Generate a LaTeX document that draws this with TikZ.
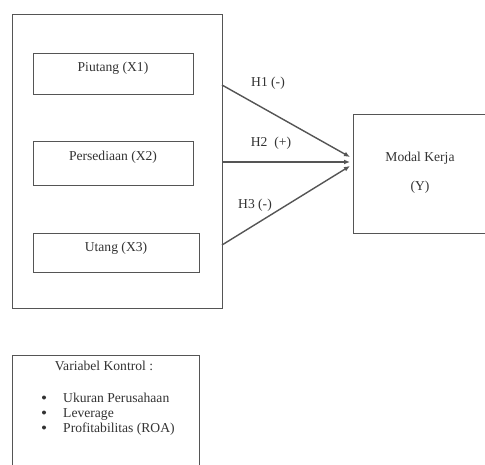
\documentclass[tikz,border=0pt]{standalone}
\usepackage{fontspec}
\setmainfont{Liberation Serif}
\usetikzlibrary{arrows.meta}
\definecolor{linec}{HTML}{555555}
\definecolor{txtc}{HTML}{333333}
\begin{document}
\begin{tikzpicture}[x=1pt,y=-1pt,
  box/.style={draw=linec, line width=1.4pt, rectangle, inner sep=0pt, anchor=north west},
  lbl/.style={font=\fontsize{13.6}{15}\selectfont, text=txtc, inner sep=0pt},
  bul/.style={circle, fill=txtc, inner sep=0pt, minimum size=4pt},
  conn/.style={draw=linec, line width=1.4pt, -{Latex[length=6pt,width=5pt]}}]
\clip (0,0) rectangle (485,465);
\fill[white] (0,0) rectangle (485,465);
% boxes
\node[box, minimum width=210pt, minimum height=294pt] (outer) at (12,14) {};
\node[box, minimum width=160pt, minimum height=41pt] (pi) at (33,53) {};
\node[box, minimum width=160pt, minimum height=44pt] (pe) at (33,141) {};
\node[box, minimum width=166pt, minimum height=39pt] (ut) at (33,233) {};
\node[box, minimum width=134pt, minimum height=119pt] (y) at (353,114) {};
\node[box, minimum width=187pt, minimum height=140pt] (ctrl) at (12,355) {};
% texts
\node[lbl] (tpi) at (113,68) {Piutang (X1)};
\node[lbl] (tpe) at (113,157) {Persediaan (X2)};
\node[lbl] (tut) at (116,248) {Utang (X3)};
\node[lbl] (ty1) at (420,158) {Modal Kerja};
\node[lbl] (ty2) at (420,187) {(Y)};
\node[lbl] (tctrl) at (104,366) {Variabel Kontrol :};
\node[bul] (b1) at (44,397.5) {};
\node[bul] (b2) at (44,412.5) {};
\node[bul] (b3) at (44,427.5) {};
\node[lbl, anchor=base west] (c1) at (63,402) {Ukuran Perusahaan};
\node[lbl, anchor=base west] (c2) at (63,417) {Leverage};
\node[lbl, anchor=base west] (c3) at (63,432) {Profitabilitas (ROA)};
% connectors
\coordinate (s1) at (222,85);
\coordinate (s2) at (222,162);
\coordinate (s3) at (222,245);
\coordinate (e1) at (350,157);
\coordinate (e2) at (350,162);
\coordinate (e3) at (350,166);
\draw[conn] (s1) -- (e1);
\draw[conn] (s2) -- (e2);
\draw[conn] (s3) -- (e3);
\node[lbl] (h1) at (268,83) {H1 (-)};
\node[lbl] (h2) at (271,143) {H2\ \ (+)};
\node[lbl] (h3) at (255,205) {H3 (-)};
\end{tikzpicture}
\end{document}
